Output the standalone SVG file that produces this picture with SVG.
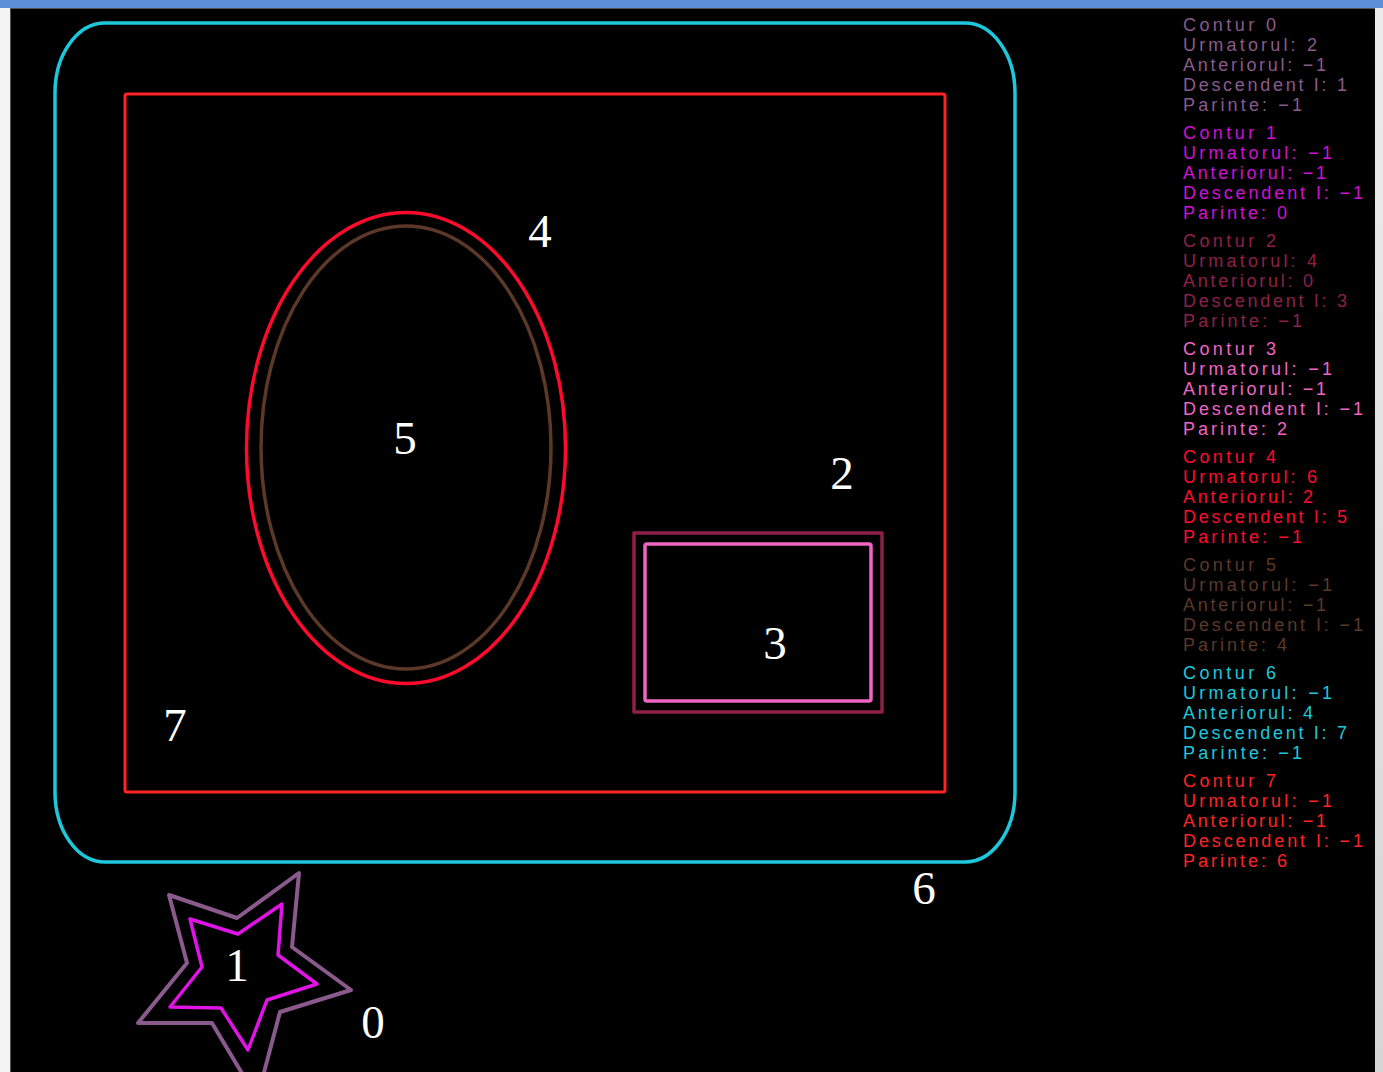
<svg xmlns="http://www.w3.org/2000/svg" width="1383" height="1072" viewBox="0 0 1383 1072">
<defs>
<linearGradient id="rm" x1="0" y1="0" x2="0" y2="1"><stop offset="0" stop-color="#ececec"/><stop offset="1" stop-color="#d6d6d6"/></linearGradient>
</defs>
<style>
.lbl{font-family:"Liberation Serif","Times New Roman",serif;font-size:47px;fill:#ffffff;text-anchor:middle}
.info{font-family:"Liberation Sans",Arial,sans-serif;font-weight:normal;font-size:18px}
.sh{fill:none;stroke-linejoin:round}
</style>
<rect x="0" y="0" width="1383" height="1072" fill="#f4f4f4"/>
<rect x="1375" y="0" width="8" height="1072" fill="url(#rm)"/>
<rect x="0" y="0" width="1383" height="8" fill="#5b8fd8"/>
<rect x="10" y="8" width="1365" height="1064" fill="#555555"/>
<rect x="11" y="9" width="1364" height="1063" fill="#000000"/>

<g id="contour6"><path class="sh" stroke="#1ec8dc" stroke-width="3.5" d="M105,23 H965 A50,70 0 0 1 1015,93 V793 A50,70 0 0 1 965,862 H105 A50,70 0 0 1 55,792 V93 A50,70 0 0 1 105,23 Z"/></g>
<g id="contour7"><rect class="sh" x="125" y="94" width="820" height="698" rx="2" stroke="#ff2323" stroke-width="3"/></g>
<g id="contour4"><ellipse class="sh" cx="406" cy="448" rx="159.5" ry="235.5" stroke="#ff0a2c" stroke-width="3.5"/></g>
<g id="contour5"><ellipse class="sh" cx="406" cy="447.5" rx="145" ry="221.5" stroke="#5c3828" stroke-width="3.5"/></g>
<g id="contour2"><rect class="sh" x="634" y="533" width="248" height="179" stroke="#8e2048" stroke-width="3.5"/></g>
<g id="contour3"><rect class="sh" x="645" y="544" width="226" height="157" rx="2" stroke="#f064c4" stroke-width="3.5"/></g>
<g id="contour0"><polygon class="sh" stroke="#8a5a8c" stroke-width="4" points="299,873 292,947 351,990 280,1012 262,1080 246,1080 212,1023 138,1023 187,963 169,895 237,918"/></g>
<g id="contour1"><polygon class="sh" stroke="#e014e6" stroke-width="3.5" points="282,904 278,955 317,984 267,1000 248,1050 221,1008 170,1007 202,967 190,919 238,934"/></g>

<g id="labels">
<text class="lbl" x="540" y="247">4</text>
<text class="lbl" x="405" y="454">5</text>
<text class="lbl" x="842" y="489">2</text>
<text class="lbl" x="775" y="659">3</text>
<text class="lbl" x="175" y="741">7</text>
<text class="lbl" x="924" y="904">6</text>
<text class="lbl" x="237" y="981">1</text>
<text class="lbl" x="373" y="1038">0</text>
</g>

<g id="info" class="info">
<g fill="#8a5a8c">
<text x="1183" y="31" textLength="93">Contur 0</text>
<text x="1183" y="51" textLength="134">Urmatorul: 2</text>
<text x="1183" y="71" textLength="143">Anteriorul: −1</text>
<text x="1183" y="91" textLength="164">Descendent I: 1</text>
<text x="1183" y="111" textLength="119">Parinte: −1</text>
</g>
<g fill="#d010d4">
<text x="1183" y="139" textLength="93">Contur 1</text>
<text x="1183" y="159" textLength="149">Urmatorul: −1</text>
<text x="1183" y="179" textLength="143">Anteriorul: −1</text>
<text x="1183" y="199" textLength="180">Descendent I: −1</text>
<text x="1183" y="219" textLength="104">Parinte: 0</text>
</g>
<g fill="#8e2048">
<text x="1183" y="247" textLength="93">Contur 2</text>
<text x="1183" y="267" textLength="134">Urmatorul: 4</text>
<text x="1183" y="287" textLength="130">Anteriorul: 0</text>
<text x="1183" y="307" textLength="164">Descendent I: 3</text>
<text x="1183" y="327" textLength="119">Parinte: −1</text>
</g>
<g fill="#f064c4">
<text x="1183" y="355" textLength="93">Contur 3</text>
<text x="1183" y="375" textLength="149">Urmatorul: −1</text>
<text x="1183" y="395" textLength="143">Anteriorul: −1</text>
<text x="1183" y="415" textLength="180">Descendent I: −1</text>
<text x="1183" y="435" textLength="104">Parinte: 2</text>
</g>
<g fill="#ff0a2c">
<text x="1183" y="463" textLength="93">Contur 4</text>
<text x="1183" y="483" textLength="134">Urmatorul: 6</text>
<text x="1183" y="503" textLength="130">Anteriorul: 2</text>
<text x="1183" y="523" textLength="164">Descendent I: 5</text>
<text x="1183" y="543" textLength="119">Parinte: −1</text>
</g>
<g fill="#5c3828">
<text x="1183" y="571" textLength="93">Contur 5</text>
<text x="1183" y="591" textLength="149">Urmatorul: −1</text>
<text x="1183" y="611" textLength="143">Anteriorul: −1</text>
<text x="1183" y="631" textLength="180">Descendent I: −1</text>
<text x="1183" y="651" textLength="104">Parinte: 4</text>
</g>
<g fill="#1ec8dc">
<text x="1183" y="679" textLength="93">Contur 6</text>
<text x="1183" y="699" textLength="149">Urmatorul: −1</text>
<text x="1183" y="719" textLength="130">Anteriorul: 4</text>
<text x="1183" y="739" textLength="164">Descendent I: 7</text>
<text x="1183" y="759" textLength="119">Parinte: −1</text>
</g>
<g fill="#ff2323">
<text x="1183" y="787" textLength="93">Contur 7</text>
<text x="1183" y="807" textLength="149">Urmatorul: −1</text>
<text x="1183" y="827" textLength="143">Anteriorul: −1</text>
<text x="1183" y="847" textLength="180">Descendent I: −1</text>
<text x="1183" y="867" textLength="104">Parinte: 6</text>
</g>
</g>
</svg>
